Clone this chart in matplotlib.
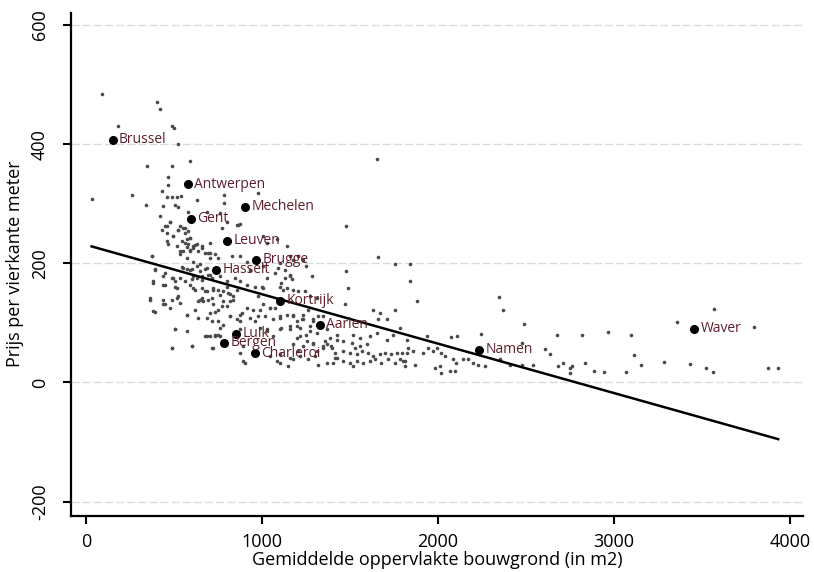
import numpy as np
import matplotlib.pyplot as plt

plt.rcParams['font.family'] = ['Open Sans', 'DejaVu Sans']
plt.rcParams['axes.unicode_minus'] = False

# gemeenten (grijze punten): oppervlakte bouwgrond (m2) en prijs per m2
opp = [89, 401, 420, 184, 487, 502, 524, 591, 345, 487, 464, 464, 430, 32, 260,
       458, 487, 515, 539, 339, 439, 506, 524, 629, 784, 784, 420, 477, 458, 534,
       581, 685, 799, 856,
       1651, 979, 865, 1477, 1660, 1755, 1840, 1840, 1480, 1282, 1490, 875, 761, 771,
       430, 458, 496, 524, 562, 543, 572, 610,
       1007, 1026, 1083, 1140, 1159, 1178, 1102, 1130, 1159, 1206, 1234, 1253,
       562, 581, 591,
       468, 515, 562, 581, 629, 657, 704, 638, 676, 704, 733, 553, 591, 534,
       373, 392, 383, 440, 449, 487, 506, 515, 543, 572, 600, 629, 648, 676, 610,
       629, 657, 695, 714, 562, 591, 620, 657, 685, 723, 752, 780, 818, 837, 799, 856,
       364, 392, 440, 477, 487, 534, 572, 620, 638, 657, 666, 695, 723, 733, 771,
       799, 818, 818, 856, 884, 913, 951, 979, 685, 752,
       506, 676, 704, 733, 761, 487, 600, 723, 875, 894, 903,
       1007, 1026, 998, 979, 932,
       1074, 1092, 1130, 1159, 1168, 1102, 1121, 1140, 1178, 1206, 1244, 1272, 1310, 1111,
       1471, 1632, 1670, 1755, 1708, 1660, 1783, 1745, 1708, 1822, 1556, 1613, 1651,
       1519, 1424,
       1007, 1045, 1074, 1017, 1064, 1102, 1140, 1178, 1197, 1225, 1234, 1263, 1291,
       1319, 1348, 1111, 1159, 1197, 1272, 1310, 1367, 1386, 1424, 1462, 1509, 1528,
       1556, 1594, 1367, 1395, 1414, 1462, 1500, 1538, 1566, 1604, 1632, 1670, 1698,
       1736, 1765, 1793, 1822, 1424, 1462, 1500, 1538, 1575, 1613, 1642, 1679, 1717,
       1755, 1783, 1812, 1405, 1367, 1519, 1215, 1253, 1291, 1348, 1300, 1234, 1178,
       1206, 1178, 1102, 1149, 1064, 1026,
       1879, 2344, 2372, 2486, 2247, 2676, 2072, 2106, 1936, 2476, 2608, 2636,
       1831, 1859, 1916, 1945, 1973, 1992, 2020, 2039, 2086, 2143, 2171, 2200, 2228,
       2266, 2105, 2011, 1982, 2020, 2068, 2096, 1869, 1802, 1812, 2352, 2408, 2476,
       2541, 2683, 2712, 2750, 2760, 2750,
       3571, 3357, 3793, 2816, 2964, 3098, 3115, 3153, 3283, 3431, 3524, 3561, 3877,
       3933, 2838, 2885, 2941, 3068,
       449, 477, 524, 553, 496, 458, 591, 619, 657, 572, 534, 591, 610, 695, 705,
       752, 828, 875, 913, 572, 610, 648, 686, 373, 392, 449, 496, 553, 591, 534,
       600, 657, 705, 761, 800, 847, 875, 913, 960, 1007, 382, 439, 506, 610, 676,
       723, 761, 809, 837, 364, 439, 524, 648, 714, 780,
       382, 449, 515, 572, 638, 705, 752, 818, 875, 932, 989, 1045, 1102, 1178, 1235,
       1292, 714, 780, 875, 960, 506, 572, 761, 686, 733, 752, 989, 1026, 1102, 1159,
       1216, 1273, 1197, 1254, 1292, 1358, 1396, 487, 600, 714, 875, 894, 1045, 1102,
       1083, 1159, 1216, 1263, 1311, 1349, 1320, 1415]
prijs = [484, 470, 459, 431, 431, 427, 400, 372, 364, 364, 344, 332, 322, 308, 315,
         311, 312, 312, 313, 297, 296, 298, 294, 306, 315, 302, 280, 270, 262, 262,
         286, 286, 270, 265,
         375, 318, 265, 262, 210, 198, 198, 170, 187, 179, 159, 266, 284, 259,
         256, 251, 246, 256, 251, 237, 240, 229,
         245, 234, 240, 229, 212, 206, 200, 189, 178, 212, 206, 195,
         259, 254, 243,
         232, 229, 234, 232, 232, 229, 234, 220, 217, 217, 215, 220, 223, 215,
         212, 190, 170, 178, 164, 175, 170, 159, 193, 190, 190, 195, 187, 190, 178,
         175, 172, 180, 175, 170, 164, 156, 159, 153, 159, 156, 153, 148, 139, 161, 156,
         139, 119, 131, 125, 139, 134, 114, 122, 136, 142, 136, 139, 131, 119, 128,
         128, 136, 111, 106, 117, 125, 122, 111, 108, 103,
         89, 78, 78, 80, 78, 58, 61, 58, 89, 61, 33,
         195, 175, 161, 145, 189,
         184, 192, 175, 181, 173, 161, 156, 159, 156, 153, 153, 145, 142, 167,
         131, 122, 117, 122, 106, 106, 92, 80, 72, 72, 75, 78, 83,
         80, 80,
         131, 125, 125, 111, 106, 108, 114, 111, 103, 106, 114, 122, 106,
         111, 111, 92, 89, 94, 94, 83, 89, 75, 72, 69, 66, 58,
         61, 64, 64, 61, 50, 53, 50, 47, 53, 50, 44, 47, 50,
         47, 50, 50, 50, 41, 36, 33, 36, 33, 36, 39, 33, 39,
         33, 39, 36, 33, 33, 27, 78, 80, 66, 61, 44, 61, 64,
         53, 39, 33, 27, 78, 89,
         136, 144, 121, 98, 82, 79, 76, 78, 78, 66, 57, 47,
         58, 53, 50, 58, 53, 58, 50, 44, 39, 39, 39, 33, 30,
         27, 33, 27, 25, 16, 19, 19, 30, 36, 27, 39, 30, 30,
         30, 27, 33, 25, 27, 16,
         124, 102, 93, 80, 85, 80, 46, 30, 34, 31, 25, 18, 25,
         25, 33, 20, 18, 18,
         262, 270, 256, 259, 245, 237, 243, 231, 226, 228, 220, 220, 226, 217, 209,
         209, 212, 212, 203, 209, 203, 198, 192, 212, 189, 184, 175, 192, 189, 175,
         173, 178, 181, 178, 170, 175, 170, 164, 161, 159, 167, 164, 161, 159, 153,
         156, 147, 150, 145, 142, 139, 145, 139, 142, 136,
         120, 131, 142, 114, 108, 117, 122, 111, 114, 108, 122, 125, 111, 114, 106,
         103, 103, 97, 103, 103, 89, 86, 92, 78, 78, 80, 92, 86, 89, 94,
         92, 86, 75, 69, 64, 69, 58, 58, 61, 58, 50, 36, 44, 47,
         36, 41, 44, 39, 53, 58, 30, 41]

# grote steden
steden = ['Brussel', 'Antwerpen', 'Mechelen', 'Gent', 'Leuven', 'Brugge', 'Hasselt',
          'Kortrijk', 'Aarlen', 'Luik', 'Bergen', 'Charleroi', 'Namen', 'Waver']
steden_opp = [153, 580, 903, 597, 801, 966, 739, 1102, 1330, 852, 784, 960, 2233, 3455]
steden_prijs = [407, 333, 295, 275, 238, 206, 189, 137, 97, 82, 67, 49, 55, 90]

# regressielijn
intercept = 231
helling = -0.0829

fig = plt.figure(figsize=(8.14, 5.72), dpi=100)
ax = fig.add_axes([0.0872, 0.0979, 0.8993, 0.8794])

for y in [-200, 0, 200, 400, 600]:
    ax.axhline(y, color='#d5dde4', lw=1.0, ls=(0, (6, 2)), zorder=0)

ax.plot(opp, prijs, 'o', color='#4a4a4a', ms=2.6, mew=0, zorder=2)

lx = np.array([min(opp), max(opp)])
ax.plot(lx, intercept + helling * lx, color='black', lw=1.8, zorder=3)

ax.plot(steden_opp, steden_prijs, 'o', color='black', ms=5.5, zorder=4)
for naam, x, y in zip(steden, steden_opp, steden_prijs):
    ax.annotate(naam, (x, y), xytext=(4.5, 0), textcoords='offset points',
                va='center', ha='left', fontsize=10, color='#5e1f2c', zorder=5)

ax.set_xlim(-85, 4074)
ax.set_ylim(-224, 620)
ax.set_xticks([0, 1000, 2000, 3000, 4000])
ax.set_yticks([-200, 0, 200, 400, 600])

ax.spines['top'].set_visible(False)
ax.spines['right'].set_visible(False)
ax.spines['left'].set_linewidth(1.6)
ax.spines['bottom'].set_linewidth(1.6)
ax.tick_params(length=6, width=1.5, labelsize=13)
ax.tick_params(axis='x', pad=6)
ax.tick_params(axis='y', pad=10)
for lab in ax.get_yticklabels():
    lab.set_rotation(90)
    lab.set_va('center')

ax.set_xlabel('Gemiddelde oppervlakte bouwgrond (in m2)', fontsize=13)
ax.set_ylabel('Prijs per vierkante meter', fontsize=13)
ax.xaxis.set_label_coords(0.5, -0.07)
ax.yaxis.set_label_coords(-0.064, 0.502)

fig.savefig('out.png', dpi=100)
